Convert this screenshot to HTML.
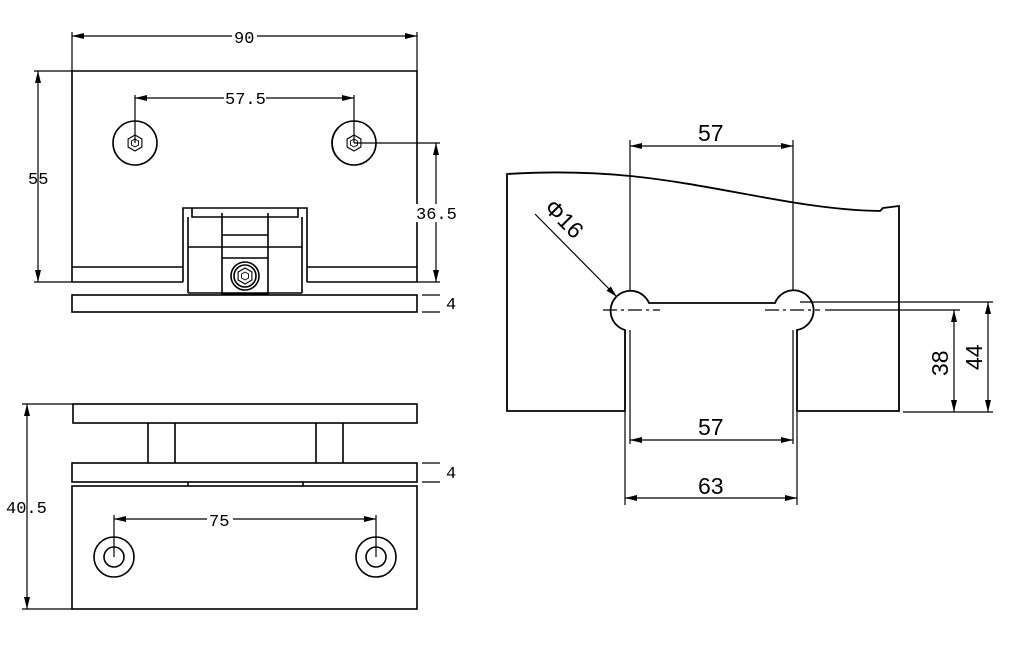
<!DOCTYPE html>
<html><head><meta charset="utf-8"><style>
html,body{margin:0;padding:0;background:#fff;}
svg{display:block;}
.a{font-family:"Liberation Mono","WenQuanYi Zen Hei",monospace;font-size:17px;fill:#000;}
.b{font-family:"Liberation Sans",sans-serif;font-size:23px;fill:#000;}
</style></head><body>
<svg width="1021" height="656" viewBox="0 0 1021 656" xmlns="http://www.w3.org/2000/svg">
<defs>
<marker id="ar" viewBox="0 0 12 6" refX="12" refY="3" markerWidth="12" markerHeight="6" orient="auto-start-reverse" markerUnits="userSpaceOnUse"><path d="M0,0 L12,3 L0,6 Z" fill="#000"/></marker>
<g id="hex"><polygon points="0,-8 6.9,-4 6.9,4 0,8 -6.9,4 -6.9,-4" fill="none" stroke="#000" stroke-width="1.1"/><polygon points="0,-4 3.5,-2 3.5,2 0,4 -3.5,2 -3.5,-2" fill="none" stroke="#000" stroke-width="0.9"/></g>
</defs>
<g fill="none" stroke="#000" stroke-width="1.6">
<path d="M72,282 V71 H417 V282 H307 M183,282 H72"/>
<path d="M72,267 H183 M307,267 H417"/>
<path d="M183,282 V208 H307 V282 M188,293 V217 M302,293 V217 M188,293 H302 M192,208 V217 H298 V208"/>
<path d="M222,213 V294 H268 V213 M222,235 H268 M222,247 H268 M188,247 H302 M222,258 H268"/>
<circle cx="135" cy="143" r="22"/>
<circle cx="354" cy="143" r="22"/><path d="M338,128 A22,22 0 0 0 338,158"/>
<circle cx="245" cy="276" r="14"/><circle cx="245" cy="276" r="11"/>
<rect x="72" y="295" width="345" height="17"/>
<rect x="73" y="404" width="344" height="19"/>
<path d="M148,423 V463 M175,423 V463 M316,423 V463 M343,423 V463"/>
<rect x="72" y="463" width="345" height="19"/>
<rect x="72" y="486" width="345" height="123"/>
<path d="M188,482 V486 M303,482 V486"/>
<circle cx="114" cy="557" r="20"/><circle cx="114" cy="557" r="10"/>
<circle cx="376" cy="557" r="20"/><circle cx="376" cy="557" r="10"/>
<path d="M625,411 V330 A20,20 0 1 1 649,303 L775,303 A20,20 0 1 1 797,330 V411 H899 V206 L883,208 L880,211 C800,210 720,185 630,176 C580,171 540,172 507,174 V411 Z" stroke-width="1.8"/>
</g>
<use href="#hex" x="135" y="143"/><use href="#hex" x="354" y="143"/><use href="#hex" x="245" y="276"/>
<g fill="none" stroke="#000" stroke-width="1.2">
<path d="M72,32 V71 M417,32 V71"/>
<path d="M72,36 H417" marker-start="url(#ar)" marker-end="url(#ar)"/>
<path d="M34,71 H72 M34,282 H72"/>
<path d="M38,71 V282" marker-start="url(#ar)" marker-end="url(#ar)"/>
<path d="M135,95 V143 M354,95 V143"/>
<path d="M135,98 H354" marker-start="url(#ar)" marker-end="url(#ar)"/>
<path d="M354,143 H440 M417,282 H440"/>
<path d="M436,143 V282" marker-start="url(#ar)" marker-end="url(#ar)"/>
<path d="M422,295 H440 M422,312 H440 M422,463 H440 M422,482 H440"/>
<path d="M22,404 H73 M22,609 H72"/>
<path d="M27,404 V609" marker-start="url(#ar)" marker-end="url(#ar)"/>
<path d="M114,515 V557 M376,515 V557"/>
<path d="M114,519 H376" marker-start="url(#ar)" marker-end="url(#ar)"/>
<path d="M630,140 V290 M630,330 V444 M793,140 V290 M793,330 V444"/>
<path d="M630,146 H793" marker-start="url(#ar)" marker-end="url(#ar)"/>
<path d="M630,440 H793" marker-start="url(#ar)" marker-end="url(#ar)"/>
<path d="M625,412 V505 M797,412 V505"/>
<path d="M625,498 H797" marker-start="url(#ar)" marker-end="url(#ar)"/>
<path d="M603,310 H660 M765,310 H820" stroke-dasharray="14,4,3,4"/>
<path d="M825,310 H960 M800,302 H993 M903,412 H993"/>
<path d="M954,310 V412" marker-start="url(#ar)" marker-end="url(#ar)"/>
<path d="M988,302 V412" marker-start="url(#ar)" marker-end="url(#ar)"/>
<path d="M535,214 L617,297" marker-end="url(#ar)"/>
</g>
<g class="a">
<rect x="232" y="28" width="25" height="16" fill="#fff"/><text x="234" y="43">90</text>
<rect x="224" y="90" width="42" height="16" fill="#fff"/><text x="225" y="104">57.5</text>
<text x="28" y="184">55</text>
<rect x="416" y="204" width="40" height="18" fill="#fff"/><text x="416" y="219">36.5</text>
<text x="446" y="309">4</text>
<text x="446" y="478">4</text>
<text x="6" y="513">40.5</text>
<rect x="207" y="511" width="26" height="16" fill="#fff"/><text x="209" y="526">75</text>
</g>
<g class="b">
<text x="698" y="141">57</text>
<text x="698" y="435">57</text>
<text x="698" y="494">63</text>
<text transform="translate(948,376) rotate(-90)">38</text>
<text transform="translate(982,370) rotate(-90)">44</text>
<text transform="translate(543,209) rotate(45)">Φ16</text>
</g>
</svg>
</body></html>
